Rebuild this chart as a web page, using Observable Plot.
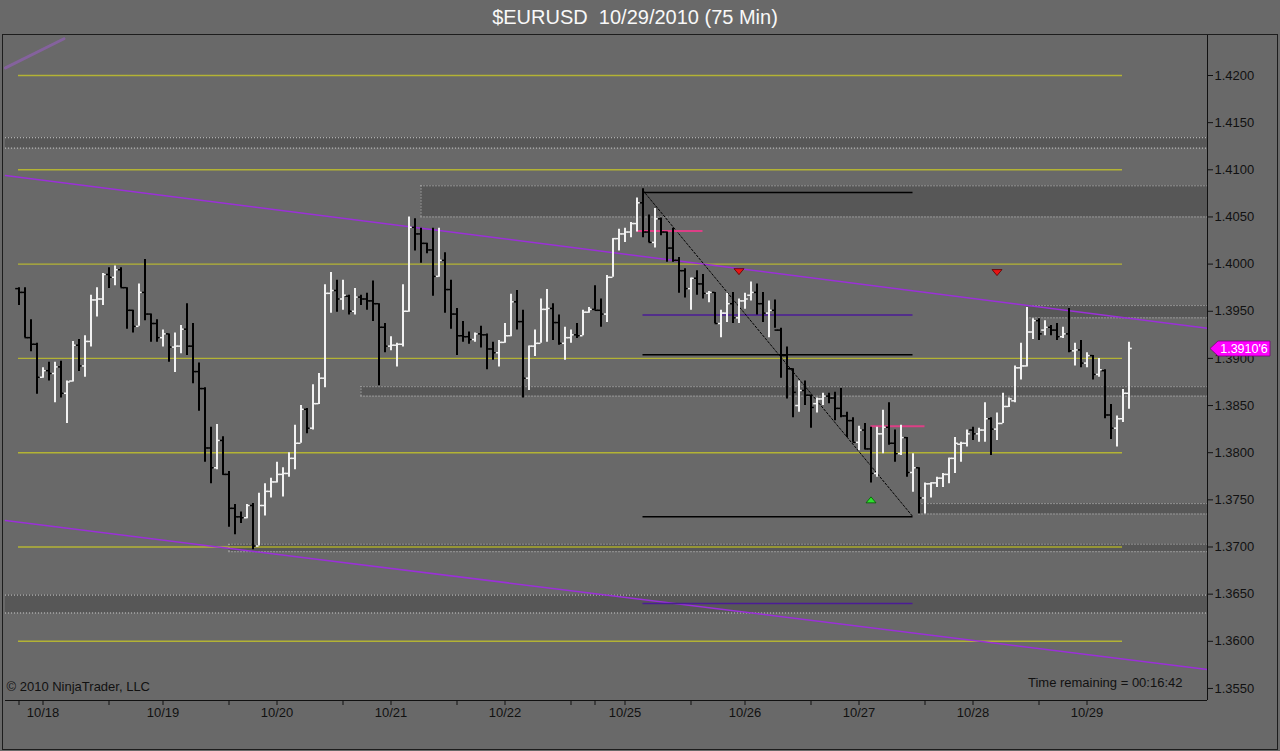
<!DOCTYPE html>
<html><head><meta charset="utf-8">
<script src="https://cdn.jsdelivr.net/npm/d3@7"></script>
<script src="https://cdn.jsdelivr.net/npm/@observablehq/plot@0.6"></script>
<style>
html,body{margin:0;padding:0;background:#696969;}
#wrap{position:relative;width:1280px;height:751px;overflow:hidden;background:#696969;font-family:"Liberation Sans",Arial,sans-serif;}
#title{position:absolute;left:-5px;top:0;width:1280px;height:34px;line-height:34px;text-align:center;color:#f8f8f8;font-size:20px;white-space:pre;}
#chart{position:absolute;left:0;top:34px;}
#border{position:absolute;left:2px;top:34px;width:1276px;height:716px;border:1px solid #1c1c1c;box-sizing:border-box;pointer-events:none;}
</style></head>
<body><div id="wrap"><div id="title">$EURUSD  10/29/2010 (75 Min)</div><div id="chart"></div><div id="border"></div></div>
<script>
// ---- OHLC (75 min bars, bar index 1..186) ----
const open = [
1.3974,1.3970,1.3922,1.3915,1.3880,1.3887,1.3884,1.3891,1.3863,1.3876,
1.3914,1.3892,1.3918,1.3962,1.3963,1.3989,1.3986,1.3994,1.3975,1.3951,
1.3934,1.3970,1.3947,1.3937,1.3922,1.3926,1.3912,1.3913,1.3931,1.3913,
1.3886,1.3868,1.3805,1.3784,1.3813,1.3777,1.3741,1.3732,1.3731,1.3744,
1.3701,1.3744,1.3759,1.3769,1.3777,1.3778,1.3794,1.3810,1.3846,1.3826,
1.3852,1.3879,1.3969,1.3972,1.3963,1.3966,1.3950,1.3965,1.3963,1.3961,
1.3958,1.3933,1.3913,1.3914,1.3915,1.3950,1.4039,1.4032,1.4022,1.4015,
1.3987,1.4004,1.3973,1.3947,1.3924,1.3923,1.3920,1.3926,1.3925,1.3910,
1.3906,1.3917,1.3924,1.3960,1.3939,1.3879,1.3913,1.3916,1.3952,1.3953,
1.3938,1.3916,1.3922,1.3925,1.3924,1.3949,1.3952,1.3951,1.3947,1.3986,
1.4027,1.4032,1.4034,1.4043,1.4065,1.4034,1.4023,1.4048,1.4034,1.4017,
1.4004,1.3993,1.3974,1.3985,1.3979,1.3969,1.3970,1.3937,1.3948,1.3958,
1.3943,1.3961,1.3967,1.3970,1.3958,1.3948,1.3951,1.3930,1.3903,1.3889,
1.3850,1.3866,1.3861,1.3852,1.3857,1.3860,1.3858,1.3847,1.3839,1.3834,
1.3811,1.3824,1.3804,1.3778,1.3820,1.3827,1.3810,1.3799,1.3816,1.3779,
1.3784,1.3752,1.3767,1.3768,1.3773,1.3777,1.3794,1.3809,1.3810,1.3824,
1.3820,1.3824,1.3836,1.3825,1.3831,1.3849,1.3855,1.3890,1.3892,1.3928,
1.3940,1.3930,1.3933,1.3930,1.3923,1.3926,1.3908,1.3909,1.3895,1.3903,
1.3883,1.3887,1.3840,1.3826,1.3836,1.3863];
const high = [
1.3975,1.3975,1.3941,1.3916,1.3890,1.3896,1.3896,1.3897,1.3876,1.3918,
1.3920,1.3924,1.3967,1.3975,1.3990,1.3996,1.3998,1.3996,1.3975,1.3951,
1.3979,1.4005,1.3947,1.3941,1.3930,1.3926,1.3927,1.3935,1.3958,1.3937,
1.3895,1.3869,1.3827,1.3830,1.3817,1.3780,1.3745,1.3737,1.3745,1.3746,
1.3757,1.3767,1.3773,1.3790,1.3784,1.3800,1.3829,1.3850,1.3847,1.3872,
1.3884,1.3978,1.3991,1.3983,1.3983,1.3967,1.3974,1.3967,1.3969,1.3982,
1.3958,1.3937,1.3923,1.3916,1.3978,1.4050,1.4048,1.4038,1.4022,1.4038,
1.4038,1.4012,1.3983,1.3953,1.3939,1.3928,1.3927,1.3934,1.3926,1.3917,
1.3919,1.3937,1.3968,1.3972,1.3951,1.3913,1.3930,1.3963,1.3973,1.3958,
1.3946,1.3933,1.3930,1.3937,1.3951,1.3954,1.3977,1.3963,1.3988,1.4027,
1.4037,1.4038,1.4044,1.4070,1.4080,1.4052,1.4059,1.4049,1.4034,1.4038,
1.4007,1.3995,1.3985,1.3993,1.3989,1.3971,1.3970,1.3951,1.3969,1.3970,
1.3963,1.3969,1.3981,1.3979,1.3970,1.3961,1.3962,1.3932,1.3912,1.3889,
1.3876,1.3876,1.3861,1.3858,1.3863,1.3863,1.3864,1.3868,1.3843,1.3837,
1.3828,1.3831,1.3827,1.3827,1.3845,1.3853,1.3824,1.3829,1.3816,1.3799,
1.3784,1.3768,1.3768,1.3774,1.3778,1.3794,1.3816,1.3811,1.3824,1.3827,
1.3826,1.3853,1.3837,1.3842,1.3863,1.3858,1.3892,1.3916,1.3954,1.3942,
1.3942,1.3940,1.3935,1.3937,1.3933,1.3953,1.3916,1.3919,1.3906,1.3903,
1.3900,1.3888,1.3851,1.3839,1.3867,1.3917];
const low = [
1.3956,1.3922,1.3907,1.3862,1.3879,1.3876,1.3853,1.3858,1.3831,1.3875,
1.3886,1.3880,1.3912,1.3944,1.3956,1.3974,1.3977,1.3975,1.3931,1.3927,
1.3934,1.3940,1.3917,1.3917,1.3912,1.3896,1.3885,1.3905,1.3903,1.3873,
1.3844,1.3790,1.3767,1.3782,1.3776,1.3721,1.3713,1.3725,1.3730,1.3697,
1.3701,1.3733,1.3752,1.3768,1.3753,1.3774,1.3782,1.3810,1.3820,1.3824,
1.3851,1.3869,1.3948,1.3949,1.3951,1.3946,1.3946,1.3956,1.3951,1.3939,
1.3871,1.3906,1.3908,1.3891,1.3912,1.3949,1.4014,1.4001,1.4011,1.3966,
1.3986,1.3948,1.3931,1.3903,1.3917,1.3915,1.3917,1.3911,1.3888,1.3898,
1.3891,1.3916,1.3923,1.3930,1.3858,1.3866,1.3902,1.3916,1.3917,1.3919,
1.3914,1.3898,1.3916,1.3921,1.3924,1.3948,1.3951,1.3933,1.3938,1.3986,
1.4014,1.4023,1.4028,1.4034,1.4028,1.4023,1.4017,1.4030,1.4002,1.4002,
1.3969,1.3964,1.3951,1.3967,1.3963,1.3959,1.3937,1.3922,1.3938,1.3937,
1.3937,1.3952,1.3961,1.3946,1.3938,1.3922,1.3932,1.3879,1.3857,1.3837,
1.3843,1.3850,1.3826,1.3842,1.3850,1.3852,1.3834,1.3837,1.3816,1.3811,
1.3802,1.3803,1.3768,1.3774,1.3799,1.3808,1.3790,1.3797,1.3774,1.3758,
1.3735,1.3735,1.3752,1.3763,1.3763,1.3767,1.3778,1.3790,1.3806,1.3813,
1.3811,1.3811,1.3797,1.3813,1.3831,1.3848,1.3853,1.3877,1.3891,1.3920,
1.3919,1.3924,1.3924,1.3919,1.3921,1.3906,1.3892,1.3890,1.3890,1.3877,
1.3880,1.3836,1.3814,1.3806,1.3832,1.3846];
const close = [
1.3970,1.3922,1.3915,1.3880,1.3887,1.3884,1.3891,1.3863,1.3875,1.3914,
1.3892,1.3918,1.3962,1.3963,1.3989,1.3986,1.3994,1.3975,1.3951,1.3934,
1.3970,1.3947,1.3937,1.3922,1.3926,1.3912,1.3913,1.3931,1.3913,1.3886,
1.3868,1.3805,1.3784,1.3813,1.3777,1.3741,1.3732,1.3731,1.3744,1.3701,
1.3744,1.3759,1.3769,1.3777,1.3778,1.3794,1.3810,1.3846,1.3826,1.3852,
1.3879,1.3969,1.3972,1.3963,1.3967,1.3950,1.3965,1.3963,1.3961,1.3958,
1.3933,1.3913,1.3914,1.3915,1.3950,1.4039,1.4032,1.4022,1.4015,1.3987,
1.4004,1.3973,1.3947,1.3924,1.3923,1.3920,1.3926,1.3925,1.3910,1.3906,
1.3917,1.3924,1.3960,1.3939,1.3879,1.3913,1.3916,1.3952,1.3953,1.3938,
1.3916,1.3922,1.3925,1.3924,1.3949,1.3952,1.3951,1.3947,1.3986,1.4027,
1.4032,1.4034,1.4043,1.4065,1.4034,1.4023,1.4048,1.4034,1.4017,1.4004,
1.3993,1.3974,1.3985,1.3979,1.3969,1.3970,1.3937,1.3948,1.3958,1.3943,
1.3961,1.3963,1.3970,1.3958,1.3948,1.3951,1.3930,1.3903,1.3889,1.3864,
1.3866,1.3861,1.3848,1.3857,1.3860,1.3858,1.3847,1.3839,1.3834,1.3811,
1.3824,1.3804,1.3778,1.3820,1.3827,1.3810,1.3799,1.3816,1.3779,1.3784,
1.3752,1.3767,1.3768,1.3773,1.3777,1.3794,1.3810,1.3810,1.3820,1.3820,
1.3824,1.3836,1.3825,1.3831,1.3849,1.3857,1.3890,1.3892,1.3928,1.3940,
1.3926,1.3933,1.3930,1.3923,1.3926,1.3908,1.3909,1.3895,1.3903,1.3883,
1.3888,1.3840,1.3826,1.3836,1.3863,1.39106];

// ---- axes ----
const priceTicks = [1.3550,1.3600,1.3650,1.3700,1.3750,1.3800,1.3850,1.3900,1.3950,1.4000,1.4050,1.4100,1.4150,1.4200];
const dayTickBars = [5,25,44,63,82,102,122,141,160,179];
const dayLabels = ["10/18","10/19","10/20","10/21","10/22","10/25","10/26","10/27","10/28","10/29"];
const minorTickBars = [1,16,36,55,74,93,97,113,133,152,171];

// ---- drawing objects ----
const gridLevels = [1.36,1.37,1.38,1.39,1.40,1.41,1.42];
const gridFirstBar = 1, gridLastBar = 185;
const zoneStartBar = [null,68,169,58,151,36,null];   // null = from left edge
const zoneTop      = [1.4134,1.4083,1.3956,1.3870,1.3746,1.3703,1.3649];
const zoneBottom   = [1.4123,1.4050,1.3943,1.3860,1.3735,1.3695,1.3630];
const channelUpper = [1.4094,1.3932];   // price at left edge, right edge
const channelLower = [1.3728,1.3570];
const shortLine    = [[-1.25,1.4208],[8.5,1.4239]];
const levelPrices  = [1.4076,1.3946,1.3904,1.3732,1.3640];
const levelKinds   = ["black","purple","black","black","purple"];
const levelFromBar = 105, levelToBar = 150;
const diagonal     = [[105,1.4078],[150,1.3732]];
const pinkPrices   = [1.4035,1.3828];
const pinkFrom     = [104,143];
const pinkTo       = [115,152];
const sellBars = [121,164], sellPrices = [1.3992,1.3991];
const buyBars = [143], buyPrices = [1.3750];
const lastPrice = 1.39106, lastLabel = "1.3910'6";

// ---- layout ----
const W = 1280, H = 717, ML = 5, MR = 73, MT = 0, MB = 51;
const XMIN = -1.25, XMAX = XMIN + (W - ML - MR) / 6;
const YMIN = 1.353722, YMAX = 1.424348;
const UP = "#f2f2f2", DOWN = "#000000";
const FONT = 13;

const bars = open.map((o, k) => ({i: k + 1, open: o, high: high[k], low: low[k], close: close[k]}));
const col = d => d.close >= d.open ? UP : DOWN;
const zones = zoneTop.map((t, k) => ({start: zoneStartBar[k] == null ? XMIN : zoneStartBar[k], hasLeft: zoneStartBar[k] != null, top: t, bottom: zoneBottom[k]}));
const levels = levelPrices.map((p, k) => ({p, c: levelKinds[k] === "black" ? "#000" : "#4b1c96"}));
const pinks = pinkPrices.map((p, k) => ({p, a: pinkFrom[k], b: pinkTo[k]}));
const sells = sellBars.map((b, k) => ({b, p: sellPrices[k]}));
const buys = buyBars.map((b, k) => ({b, p: buyPrices[k]}));
const labelOf = new Map(dayTickBars.map((b, k) => [b, dayLabels[k]]));

const triDown = {draw(ctx) { ctx.moveTo(-5, -3); ctx.lineTo(5, -3); ctx.lineTo(0, 3); ctx.closePath(); }};
const triUp = {draw(ctx) { ctx.moveTo(-5, 3); ctx.lineTo(5, 3); ctx.lineTo(0, -3); ctx.closePath(); }};

function priceTag(index, scales, values, dims) {
  const y = Math.round(scales.y(lastPrice)) + 0.5;
  const x0 = dims.width - dims.marginRight + 3;
  const g = d3.create("svg:g");
  g.append("path")
    .attr("d", `M${x0},${y} L${x0 + 8},${y - 7.5} L${x0 + 60},${y - 7.5} L${x0 + 60},${y + 7.5} L${x0 + 8},${y + 7.5} Z`)
    .attr("fill", "#ff00ff").attr("stroke", "#7a007a").attr("stroke-width", 0.8);
  g.append("text").attr("x", x0 + 34).attr("y", y).attr("dy", "0.36em")
    .attr("text-anchor", "middle").attr("fill", "#ffffff").attr("font-size", 12.5).text(lastLabel);
  return g.node();
}

const chart = Plot.plot({
  width: W, height: H, marginLeft: ML, marginRight: MR, marginTop: MT, marginBottom: MB,
  x: {domain: [XMIN, XMAX], axis: null},
  y: {domain: [YMIN, YMAX], axis: null},
  color: {type: "identity"},
  style: {background: "transparent", color: "#111", fontFamily: "'Liberation Sans', Arial, sans-serif", overflow: "visible"},
  marks: [
    // zones
    Plot.rect(zones, {x1: "start", x2: () => XMAX, y1: "bottom", y2: "top", fill: "#575757"}),
    Plot.ruleY(zones, {y: "top", x1: "start", x2: () => XMAX, stroke: "#c8c8c8", strokeDasharray: "1,2"}),
    Plot.ruleY(zones, {y: "bottom", x1: "start", x2: () => XMAX, stroke: "#c8c8c8", strokeDasharray: "1,2"}),
    Plot.ruleX(zones.filter(z => z.hasLeft), {x: "start", y1: "bottom", y2: "top", stroke: "#c8c8c8", strokeDasharray: "1,2"}),
    // yellow grid
    Plot.ruleY(gridLevels, {x1: () => gridFirstBar, x2: () => gridLastBar, stroke: "#ffff00", strokeDasharray: "1,1", strokeWidth: 1.4}),
    // trend channel
    Plot.line([[XMIN, channelUpper[0]], [XMAX, channelUpper[1]]], {stroke: "#9b30d8", strokeWidth: 1.5}),
    Plot.line([[XMIN, channelLower[0]], [XMAX, channelLower[1]]], {stroke: "#9b30d8", strokeWidth: 1.5}),
    Plot.line(shortLine, {stroke: "#9a5cc8", strokeWidth: 3, strokeOpacity: 0.55}),
    // horizontal levels
    Plot.ruleY(levels, {y: "p", x1: () => levelFromBar, x2: () => levelToBar, stroke: "c", strokeWidth: 1.5}),
    Plot.line(diagonal, {stroke: "#000", strokeWidth: 1, strokeDasharray: "2,2"}),
    Plot.ruleY(pinks, {y: "p", x1: "a", x2: "b", stroke: "#dd3f86", strokeWidth: 2}),
    // OHLC bars
    Plot.ruleX(bars, {x: "i", y1: "low", y2: "high", stroke: col, strokeWidth: 2}),
    Plot.ruleY(bars, {y: "open", x1: d => d.i - 0.55, x2: "i", stroke: col, strokeWidth: 1.5}),
    Plot.ruleY(bars, {y: "close", x1: "i", x2: d => d.i + 0.55, stroke: col, strokeWidth: 1.5}),
    // signals
    Plot.dot(sells, {x: "b", y: "p", symbol: triDown, fill: "#e81414", stroke: "#5a0000", strokeWidth: 0.8}),
    Plot.dot(buys, {x: "b", y: "p", symbol: triUp, fill: "#2ee02e", stroke: "#005a00", strokeWidth: 0.8}),
    // frame lines
    Plot.ruleX([XMAX], {stroke: "#111"}),
    Plot.ruleY([YMIN], {stroke: "#111"}),
    // axes
    Plot.axisY(priceTicks, {anchor: "right", tickFormat: d => d.toFixed(4), tickSize: 5, tickPadding: 2, fontSize: FONT, label: null}),
    Plot.axisX(dayTickBars, {anchor: "bottom", tickFormat: d => labelOf.get(d), tickSize: 5, tickPadding: 2, fontSize: FONT, label: null}),
    Plot.axisX(minorTickBars, {anchor: "bottom", tickFormat: () => "", tickSize: 5, label: null}),
    // texts
    Plot.text(["© 2010 NinjaTrader, LLC"], {frameAnchor: "bottom-left", textAnchor: "start", dx: 1, dy: -10, fontSize: FONT, fill: "#111"}),
    Plot.text(["Time remaining = 00:16:42"], {frameAnchor: "bottom-right", textAnchor: "end", dx: -25, dy: -14, fontSize: FONT, fill: "#111"}),
    priceTag
  ]
});
document.getElementById("chart").appendChild(chart);
</script></body></html>
